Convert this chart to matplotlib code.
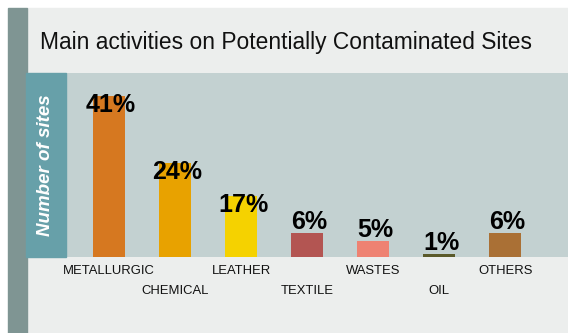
import matplotlib
matplotlib.use("Agg")
import matplotlib.pyplot as plt
from matplotlib.patches import Rectangle
from matplotlib.transforms import blended_transform_factory

plt.rcParams['font.family'] = ['Liberation Sans', 'DejaVu Sans']

# data
categories = ['METALLURGIC', 'CHEMICAL', 'LEATHER', 'TEXTILE', 'WASTES', 'OIL', 'OTHERS']
pct_labels = ['41%', '24%', '17%', '6%', '5%', '1%', '6%']
bar_heights = [41, 24, 15.5, 6.1, 4.1, 0.8, 6.1]
bar_colors = ['#d67820', '#e8a200', '#f5d200', '#b35552', '#ee8272', '#5a5a2a', '#aa7035']

W, H = 568, 333
fig = plt.figure(figsize=(W / 100, H / 100), dpi=100)
fig.patch.set_facecolor('white')


def px_rect(x0, y0, x1, y1, color, z=-10):
    # rectangle in pixel coords (origin top-left)
    fig.patches.append(Rectangle((x0 / W, 1 - y1 / H), (x1 - x0) / W, (y1 - y0) / H,
                                 transform=fig.transFigure, color=color, zorder=z))


# panel backgrounds
px_rect(27, 8, W, H, '#eceeed')
px_rect(8, 8, 27, H, '#7f9593')

ax = fig.add_axes([66 / W, (H - 257) / H, (W - 66) / W, 184 / H], zorder=1)
ax.set_facecolor('#c3d1d1')
px_rect(26, 73, 66, 257, '#67a0a9', z=5)

x = list(range(len(categories)))
ax.bar(x, bar_heights, width=0.485, color=bar_colors)
ax.set_xlim(-0.65, 6.95)
ax.set_ylim(0, 46.8)
ax.set_xticks([])
ax.set_yticks([])
for s in ax.spines.values():
    s.set_visible(False)

for xi, h, lab in zip(x, bar_heights, pct_labels):
    off = -11.5 if h > 10 else 3
    ax.annotate(lab, (xi, h), xytext=(1.5, off), textcoords='offset points',
                ha='center', va='baseline', fontsize=18, fontweight='bold', color='black')

trans = blended_transform_factory(ax.transData, ax.transAxes)
for xi, cat in zip(x, categories):
    yy = -0.076 if xi % 2 == 0 else -0.185
    ax.text(xi, yy, cat, transform=trans, ha='center', va='center', fontsize=9.4,
            color='#111111', clip_on=False)

fig.text(40 / W, 1 - 42 / H, 'Main activities on Potentially Contaminated Sites',
         ha='left', va='center', fontsize=16.4, color='#111111')
fig.text(46 / W, 1 - 165 / H, 'Number of sites', rotation=90, ha='center', va='center',
         fontsize=13.5, fontweight='bold', fontstyle='italic', color='white', zorder=6)

fig.savefig('out.png', dpi=100)
